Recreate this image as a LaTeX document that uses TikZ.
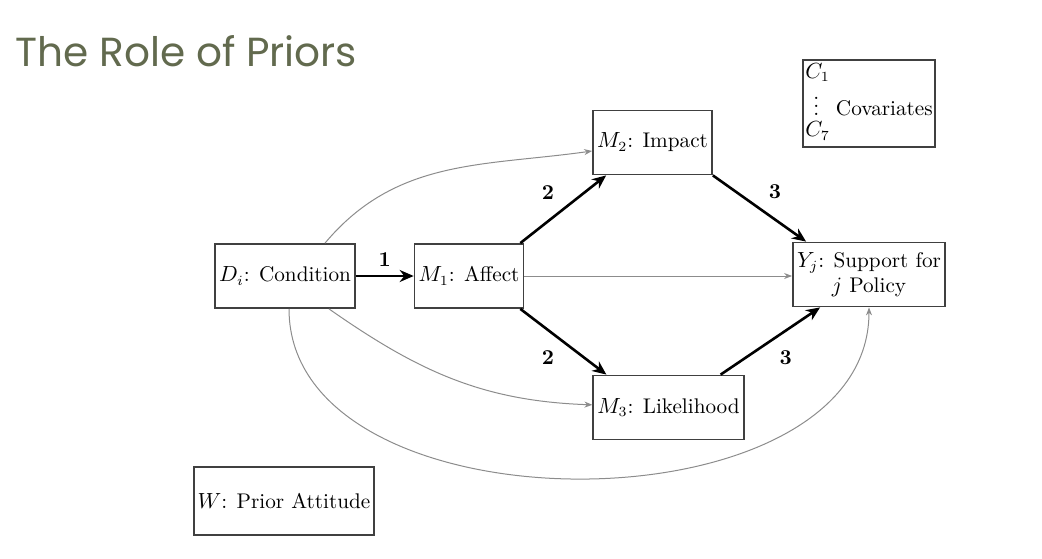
\documentclass[tikz,border=0pt]{standalone}
\usepackage{fontspec}
\usepackage{amsmath}
\usetikzlibrary{arrows.meta,positioning}
\newfontfamily\titlefont{Poppins}
\definecolor{titleOlive}{RGB}{98,106,78}

\begin{document}
\begin{tikzpicture}[x=0.5pt,y=0.5pt]

\tikzstyle{varbox}=[draw=black!75, line width=0.9pt, fill=white, text centered,
    minimum height=32pt, inner sep=2pt, font=\fontsize{10.6}{12.7}\selectfont]

\tikzstyle{mainArrow}=[line width=1.3pt, -{Stealth[length=7pt,width=6pt]}]
\tikzstyle{sideArrow}=[black!45, line width=0.5pt, -{Stealth[length=4pt,width=3pt]}]
\tikzstyle{pathNum}=[font=\fontsize{10.6}{12.7}\selectfont\bfseries, inner sep=4pt]

\useasboundingbox (0,0) rectangle (1042,558);

\node[anchor=base west, inner sep=0, text=titleOlive,
    font=\titlefont\fontsize{20.3}{24}\selectfont] (title) at (15,491) {The Role of Priors};

\node[varbox, minimum width=67pt] (d) at (285,282) {$D_i$: Condition};
\node[varbox, minimum width=49pt] (m1) at (469,282) {$M_1$: Affect};
\node[varbox, minimum width=57.5pt] (m2) at (652.5,415.5) {$M_2$: Impact};
\node[varbox, minimum width=73.5pt] (m3) at (668.5,150.5) {$M_3$: Likelihood};
\node[varbox, minimum width=76pt, align=center] (y) at (869,283.5) {$Y_j$: Support for\\ $j$ Policy};
\node[varbox, minimum width=89pt, minimum height=34pt] (w) at (284,57) {$W$: Prior Attitude};
\node[varbox, minimum width=66pt, minimum height=43.5pt, inner xsep=1pt, inner ysep=0.5pt] (cov) at (869,454.5)
    {\renewcommand{\arraystretch}{0.85}$\begin{array}{@{}l@{\hspace{3pt}}l@{}} C_1 & \\ \hspace{4pt}\vdots & \text{Covariates}\\ C_7 & \end{array}$};

\draw[mainArrow] (d) -- node[pathNum, above] {1} (m1);
\draw[mainArrow] ([xshift=-2pt]m1.north east) -- node[pathNum, above left] {2} ([xshift=7pt]m2.south west);
\draw[mainArrow] ([xshift=-2pt]m1.south east) -- node[pathNum, below left] {2} ([xshift=7pt]m3.north west);
\draw[mainArrow] (m2.south east) -- node[pathNum, above right] {3} ([xshift=7pt]y.north west);
\draw[mainArrow] ([xshift=-12pt]m3.north east) -- node[pathNum, below right] {3} ([xshift=14pt]y.south west);

\draw[sideArrow] (m1.east) -- (m1.east -| y.west);
\draw[sideArrow] ([xshift=20pt]d.north) to[out=50, in=188] (m2);
\draw[sideArrow] ([xshift=22pt]d.south) to[out=-35, in=178] (m3);
\draw[sideArrow] ([xshift=2pt]d.south) to[out=-90, in=-90] (y.south);

\end{tikzpicture}
\end{document}
